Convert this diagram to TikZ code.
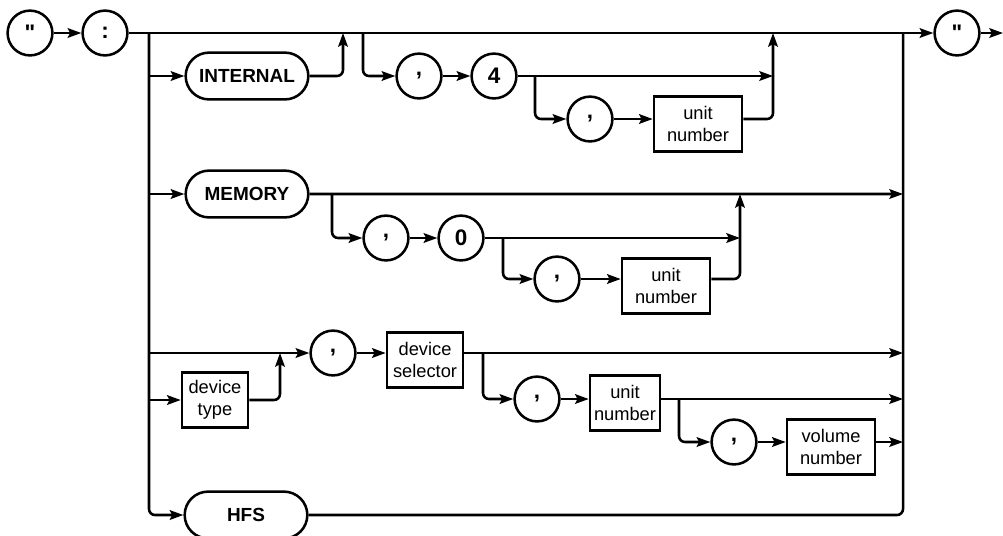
\documentclass[tikz,border=0pt]{standalone}
\usepackage{fontspec}
\setmainfont{Liberation Sans}
\usepackage{tikz}
\usetikzlibrary{arrows.meta, positioning, shapes.misc}

\begin{document}
\begin{tikzpicture}[x=0.025cm,y=-0.025cm,line width=1.8pt,
  >={Stealth[length=3.4mm,width=2.4mm,inset=0.6mm]},
  every node/.style={font=\fontsize{13}{15.5}\selectfont},
  lit/.style={draw,circle,minimum size=1.12cm,inner sep=0pt,font=\fontsize{16}{18}\selectfont\bfseries},
  kword/.style={draw,rounded rectangle,minimum width=3.3cm,minimum height=1.17cm,font=\fontsize{13.5}{16}\selectfont\bfseries},
  param/.style={draw,rectangle,align=center,inner xsep=1pt,minimum height=1.38cm}]
  \useasboundingbox[fill=white] (0,0) rectangle (1003,535);

  \node[lit] (q1) at (30,33) {\textquotedbl};
  \node[lit] (col) at (105,33) {:};
  \node[lit] (q2) at (957,33) {\textquotedbl};
  \coordinate (fin) at (1003,33);
  \coordinate (lt) at (149,33);
  \coordinate (rt) at (903,33);

  \node[kword] (int) at (247,76) {INTERNAL};
  \node[kword] (mem) at (247,194) {MEMORY};
  \node[kword] (hfs) at (246,515) {HFS};

  \node[lit] (c11) at (419,76) {,};
  \node[lit] (c12) at (494,76) {4};
  \node[lit] (c13) at (590,119) {,};
  \node[param,minimum width=2.2cm] (b11) at (698,124) {unit\\number};

  \node[lit] (c21) at (386,238) {,};
  \node[lit] (c22) at (461,238) {0};
  \node[lit] (c23) at (557,279) {,};
  \node[param,minimum width=2.2cm] (b21) at (666,286) {unit\\number};

  \node[lit] (c31) at (333,353) {,};
  \node[param,minimum width=1.9cm] (b31) at (425,360) {device\\selector};
  \node[param,minimum width=1.65cm] (bt) at (215,400) {device\\type};
  \node[lit] (c32) at (537,399) {,};
  \node[param,minimum width=1.75cm,inner xsep=0pt] (b32) at (625,403) {unit\\number};
  \node[lit] (c33) at (734,442) {,};
  \node[param,minimum width=2.2cm] (b33) at (831,447) {volume\\number};

  \coordinate (j1) at (343,33);
  \coordinate (s1) at (363,33);
  \coordinate (s2) at (535,76);
  \coordinate (j2) at (773,33);
  \coordinate (s3) at (332,194);
  \coordinate (s4) at (503,238);
  \coordinate (j3) at (740,194);
  \coordinate (j4) at (280,353);
  \coordinate (s5) at (483,353);
  \coordinate (s6) at (679,399);

  \draw[->] (q1) -- (col);
  \draw[->] (col) -- (q2);
  \draw[->] (q2) -- (fin);
  \draw[->,rounded corners=1.5mm] (lt) |- (hfs);
  \draw[rounded corners=1.5mm] (hfs) -| (rt);

  \draw[->] (lt |- int) -- (int);
  \draw[->,rounded corners=1.5mm] (int) -| (j1);
  \draw[->,rounded corners=1.5mm] (s1) |- (c11);
  \draw[->] (c11) -- (c12);
  \draw[->] (c12) -- (c12 -| j2);
  \draw[->,rounded corners=1.5mm] (s2) |- (c13);
  \draw[->] (c13) -- (c13 -| b11.west);
  \draw[->,rounded corners=1.5mm] (b11.east |- c13) -| (j2);

  \draw[->] (lt |- mem) -- (mem);
  \draw[->] (mem) -- (mem -| rt);
  \draw[->,rounded corners=1.5mm] (s3) |- (c21);
  \draw[->] (c21) -- (c22);
  \draw[->] (c22) -- (c22 -| j3);
  \draw[->,rounded corners=1.5mm] (s4) |- (c23);
  \draw[->] (c23) -- (c23 -| b21.west);
  \draw[->,rounded corners=1.5mm] (b21.east |- c23) -| (j3);

  \draw[->] (lt |- c31) -- (c31);
  \draw[->] (lt |- bt) -- (bt);
  \draw[->,rounded corners=1.5mm] (bt) -| (j4);
  \draw[->] (c31) -- (c31 -| b31.west);
  \draw[->] (b31.east |- c31) -- (rt |- c31);
  \draw[->,rounded corners=1.5mm] (s5) |- (c32);
  \draw[->] (c32) -- (c32 -| b32.west);
  \draw[->] (b32.east |- c32) -- (rt |- c32);
  \draw[->,rounded corners=1.5mm] (s6) |- (c33);
  \draw[->] (c33) -- (c33 -| b33.west);
  \draw[->] (b33.east |- c33) -- (rt |- c33);
\end{tikzpicture}
\end{document}
